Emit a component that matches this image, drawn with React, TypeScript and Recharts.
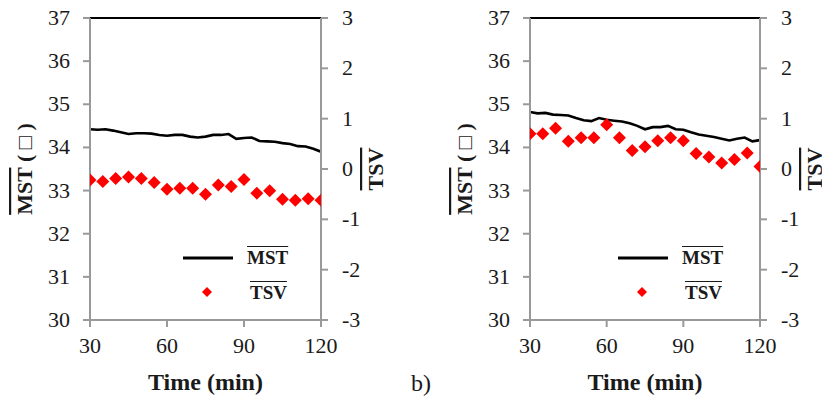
import React from 'react';
import { ComposedChart, Line, Scatter, XAxis, YAxis, ReferenceLine } from 'recharts';

// time stamps (min)
const mstTime = [30, 33, 36, 39, 42, 45, 48, 51, 54, 57, 60, 63, 66, 69, 72, 75, 78, 81, 84, 87, 90, 93, 96, 99, 102, 105, 108, 111, 114, 117, 120];
const tsvTime = [30, 35, 40, 45, 50, 55, 60, 65, 70, 75, 80, 85, 90, 95, 100, 105, 110, 115, 120];

// panel a
const mstA = [34.42, 34.41, 34.42, 34.39, 34.35, 34.31, 34.33, 34.33, 34.32, 34.29, 34.27, 34.29, 34.29, 34.25, 34.23, 34.25, 34.29, 34.29, 34.31, 34.2, 34.22, 34.23, 34.15, 34.14, 34.13, 34.1, 34.08, 34.03, 34.02, 33.97, 33.9];
const tsvA = [-0.22, -0.25, -0.19, -0.16, -0.19, -0.27, -0.4, -0.38, -0.38, -0.5, -0.32, -0.35, -0.21, -0.48, -0.43, -0.6, -0.62, -0.59, -0.62];

// panel b
const mstB = [34.82, 34.79, 34.8, 34.76, 34.75, 34.74, 34.68, 34.63, 34.61, 34.68, 34.64, 34.62, 34.6, 34.56, 34.5, 34.42, 34.47, 34.47, 34.5, 34.42, 34.41, 34.35, 34.3, 34.27, 34.24, 34.2, 34.16, 34.2, 34.23, 34.14, 34.17];
const tsvB = [0.7, 0.7, 0.81, 0.55, 0.62, 0.62, 0.88, 0.62, 0.37, 0.44, 0.56, 0.62, 0.56, 0.31, 0.24, 0.12, 0.19, 0.32, 0.05];

const xTicks = [30, 60, 90, 120];
const mstTicks = [30, 31, 32, 33, 34, 35, 36, 37];
const tsvTicks = [-3, -2, -1, 0, 1, 2, 3];

const FONT = '"Liberation Serif", "Times New Roman", serif';
const AXIS = '#999999';
const TXT = '#1a1a1a';

function Tick({ x, y, payload, anchor, dy }: any) {
  return (
    <text x={x} y={y} dy={dy} textAnchor={anchor} style={{ fontFamily: FONT, fontSize: 22 }} fill={TXT}>
      {payload.value}
    </text>
  );
}

// square diamond marker, like the spreadsheet one
function Diamond({ cx, cy }: any) {
  const r = 6.5;
  return <path d={`M${cx},${cy - r} L${cx + r},${cy} L${cx},${cy + r} L${cx - r},${cy} Z`} fill="#ff0000" />;
}

function VTitle({ viewBox, dx, main, rest }: any) {
  const cx = viewBox.x + dx;
  const cy = viewBox.y + viewBox.height / 2;
  return (
    <text
      x={cx}
      y={cy}
      transform={`rotate(-90 ${cx} ${cy})`}
      textAnchor="middle"
      dominantBaseline="central"
      style={{ fontFamily: FONT }}
      fontWeight="bold"
      fontSize={22}
      fill={TXT}
    >
      <tspan style={{ textDecoration: 'overline' }}>{main}</tspan>
      {rest ? <tspan>{rest}</tspan> : null}
    </text>
  );
}

function LegendBox({ left }: any) {
  const label = { fontFamily: FONT, fontWeight: 'bold' as const, fontSize: 19, color: TXT, textDecoration: 'overline', lineHeight: '22px' };
  return (
    <div style={{ position: 'absolute', left, top: 245, width: 110, height: 60 }}>
      <svg width={110} height={60} style={{ position: 'absolute', left: 0, top: 0 }}>
        <line x1={0} y1={13} x2={50} y2={13} stroke="#000" strokeWidth={3} />
        <path d="M24,42 L29,47 L24,52 L19,47 Z" fill="#ff0000" />
      </svg>
      <span style={{ ...label, position: 'absolute', left: 64, top: 2 }}>MST</span>
      <span style={{ ...label, position: 'absolute', left: 67, top: 37 }}>TSV</span>
    </div>
  );
}

function Panel({ mst, tsv, left, width, rightAxisW, legendLeft }: any) {
  const mstData = mstTime.map((t, i) => ({ t, v: mst[i] }));
  const tsvData = tsvTime.map((t, i) => ({ t, v: tsv[i] }));
  return (
    <div style={{ position: 'absolute', left, top: 0, fontFamily: FONT }}>
      <ComposedChart width={width} height={404} margin={{ top: 18, right: 0, bottom: 0, left: 0 }}>
        <XAxis
          type="number"
          dataKey="t"
          domain={[30, 120]}
          ticks={xTicks}
          allowDataOverflow
          height={84}
          stroke={AXIS}
          strokeWidth={2}
          tickSize={7}
          tickMargin={11}
          tick={<Tick anchor="middle" dy={15} />}
          tickLine={{ stroke: AXIS, strokeWidth: 2 }}
          label={{ value: 'Time (min)', position: 'insideBottom', offset: 14, style: { fontFamily: FONT, fontWeight: 'bold', fontSize: 24, fill: TXT } }}
        />
        <YAxis
          yAxisId="mst"
          orientation="left"
          domain={[30, 37]}
          ticks={mstTicks}
          allowDataOverflow
          width={90}
          stroke={AXIS}
          strokeWidth={2}
          tickSize={7}
          tickMargin={13}
          tick={<Tick anchor="end" dy={7} />}
          tickLine={{ stroke: AXIS, strokeWidth: 2 }}
          label={{ content: (p: any) => <VTitle {...p} dx={24} main="MST" rest=" ( □ )" /> }}
        />
        <YAxis
          yAxisId="tsv"
          orientation="right"
          domain={[-3, 3]}
          ticks={tsvTicks}
          allowDataOverflow
          width={rightAxisW}
          stroke={AXIS}
          strokeWidth={2}
          tickSize={7}
          tickMargin={14}
          tick={<Tick anchor="start" dy={7} />}
          tickLine={{ stroke: AXIS, strokeWidth: 2 }}
          label={{ content: (p: any) => <VTitle {...p} dx={54} main="TSV" /> }}
        />
        <ReferenceLine yAxisId="mst" y={37} stroke="#000" strokeWidth={2} ifOverflow="extendDomain" />
        <Line
          yAxisId="mst"
          data={mstData}
          dataKey="v"
          type="linear"
          stroke="#000"
          strokeWidth={2.6}
          dot={false}
          activeDot={false}
          isAnimationActive={false}
        />
        <Scatter
          yAxisId="tsv"
          data={tsvData}
          dataKey="v"
          fill="#ff0000"
          shape={<Diamond />}
          isAnimationActive={false}
        />
      </ComposedChart>
      <LegendBox left={legendLeft} />
    </div>
  );
}

export default function App() {
  return (
    <div style={{ position: 'absolute', left: 0, top: 0, width: 822, height: 404, background: '#fff', overflow: 'hidden' }}>
      <Panel mst={mstA} tsv={tsvA} left={0} width={410} rightAxisW={89} legendLeft={183} />
      <Panel mst={mstB} tsv={tsvB} left={440} width={382} rightAxisW={62} legendLeft={178} />
      <div style={{ position: 'absolute', left: 411, top: 370, fontFamily: FONT, fontSize: 24, color: TXT }}>b)</div>
    </div>
  );
}
